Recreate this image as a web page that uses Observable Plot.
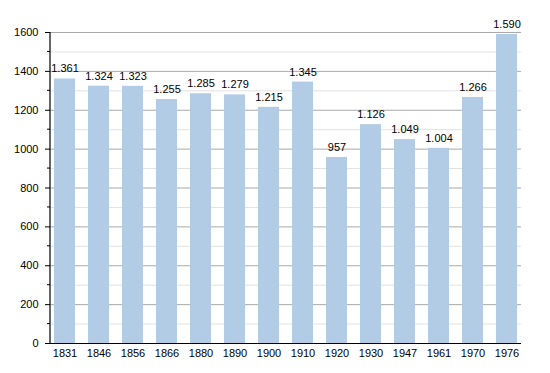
<!DOCTYPE html>
<html>
<head>
<meta charset="utf-8">
<script src="https://cdn.jsdelivr.net/npm/d3@7"></script>
<script src="https://cdn.jsdelivr.net/npm/@observablehq/plot@0.6"></script>
<style>
  html, body { margin: 0; padding: 0; background: #fff; }
  #chart svg { display: block; }
</style>
</head>
<body>
<div id="chart"></div>
<script>
const years = ["1831","1846","1856","1866","1880","1890","1900","1910","1920","1930","1947","1961","1970","1976"];
const population = [1361,1324,1323,1255,1285,1279,1215,1345,957,1126,1049,1004,1266,1590];
const majorTicks = [0,200,400,600,800,1000,1200,1400,1600];
const minorTicks = [100,300,500,700,900,1100,1300,1500];

const data = years.map((y, i) => ({year: y, value: population[i]}));
const fmt = v => d3.format(",")(v).replace(/,/g, ".");

const chart = Plot.plot({
  width: 550,
  height: 373,
  marginLeft: 50,
  marginRight: 29,
  marginTop: 32,
  marginBottom: 30,
  style: {fontFamily: "Liberation Sans, Arial, sans-serif", fontSize: "11px", color: "#000", background: "#fff"},
  x: {domain: years, paddingInner: 0.39, paddingOuter: 0.02, label: null},
  y: {domain: [0, 1600], label: null},
  marks: [
    Plot.ruleY(minorTicks, {stroke: "#e2e2e2", strokeWidth: 1}),
    Plot.ruleY(majorTicks, {stroke: "#aaaaaa", strokeWidth: 1}),
    Plot.barY(data, {x: "year", y: "value", fill: "#b2cce6"}),
    Plot.ruleY([0], {stroke: "#000", strokeWidth: 1.2}),
    Plot.axisY({ticks: majorTicks, tickSize: 5, tickPadding: 7, tickFormat: d => String(d), stroke: "#000", fill: "#000", fontSize: 11, label: null}),
    Plot.axisX({tickSize: 0, tickPadding: 6, fill: "#000", fontSize: 11, label: null}),
    Plot.text(data, {x: "year", y: "value", text: d => fmt(d.value), dy: -10, fill: "#000", fontSize: 11})
  ]
});
document.getElementById("chart").appendChild(chart);

// vertical axis line & minor ticks via scales
const svg = d3.select(chart);
const ys = chart.scale("y");
const x0 = 50;
svg.append("line").attr("x1", x0).attr("x2", x0)
  .attr("y1", ys.apply(1600)).attr("y2", ys.apply(0))
  .attr("stroke", "#000").attr("stroke-width", 1.2);
svg.selectAll("line.minor").data(minorTicks).join("line")
  .attr("class", "minor")
  .attr("x1", x0 - 3).attr("x2", x0)
  .attr("y1", d => ys.apply(d)).attr("y2", d => ys.apply(d))
  .attr("stroke", "#000");
</script>
</body>
</html>
